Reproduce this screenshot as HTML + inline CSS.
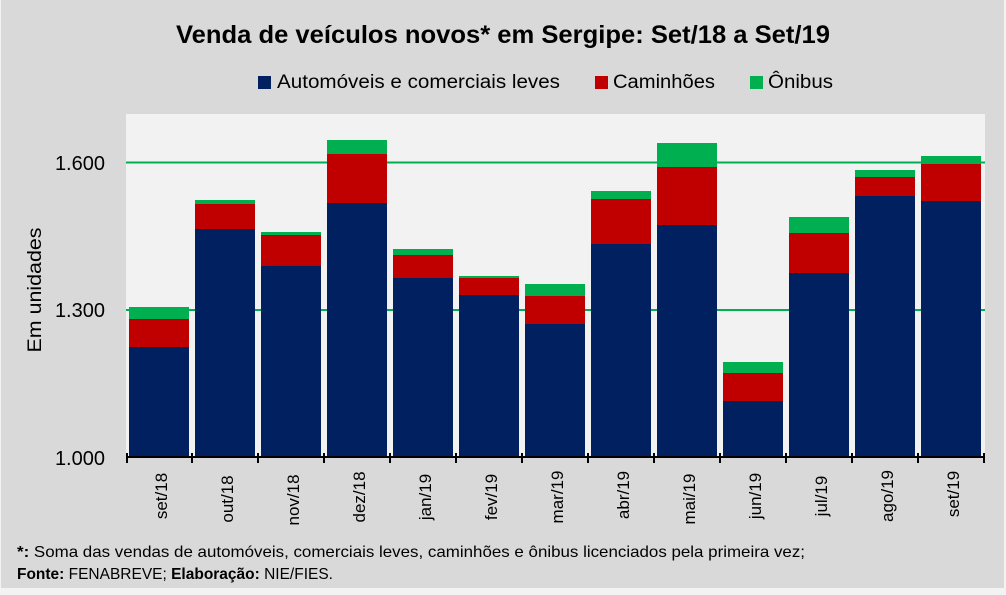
<!DOCTYPE html>
<html>
<head>
<meta charset="utf-8">
<style>
html,body{margin:0;padding:0;background:#f3f3f3;}
svg{display:block;}
text{font-family:"Liberation Sans",sans-serif;fill:#000;}
</style>
</head>
<body>
<svg width="1006" height="595" viewBox="0 0 1006 595" xmlns="http://www.w3.org/2000/svg">
  <rect x="0" y="0" width="1006" height="595" fill="#f3f3f3"/>
  <rect x="1" y="0" width="1003" height="588" fill="#d9d9d9"/>
  <!-- plot area -->
  <rect x="126" y="114" width="859" height="343" fill="#f2f2f2"/>
  <!-- gridlines -->
  <line x1="126" y1="162.5" x2="985" y2="162.5" stroke="#00b050" stroke-width="2"/>
  <line x1="126" y1="310" x2="985" y2="310" stroke="#00b050" stroke-width="2"/>

  <!-- Title -->
  <text x="176" y="43" font-size="25" font-weight="bold" textLength="654" lengthAdjust="spacingAndGlyphs">Venda de veículos novos* em Sergipe: Set/18 a Set/19</text>

  <!-- Legend -->
  <rect x="258" y="76" width="13" height="13" fill="#002060"/>
  <text x="277" y="88" font-size="19" textLength="283" lengthAdjust="spacingAndGlyphs">Automóveis e comerciais leves</text>
  <rect x="595" y="76" width="13" height="13" fill="#c00000"/>
  <text x="613" y="88" font-size="19" textLength="102" lengthAdjust="spacingAndGlyphs">Caminhões</text>
  <rect x="750" y="76" width="13" height="13" fill="#00b050"/>
  <text x="768" y="88" font-size="19" textLength="65" lengthAdjust="spacingAndGlyphs">Ônibus</text>

  <!-- Y axis labels -->
  <text x="105" y="170" font-size="20" text-anchor="end">1.600</text>
  <text x="105" y="317" font-size="20" text-anchor="end">1.300</text>
  <text x="105" y="465" font-size="20" text-anchor="end">1.000</text>
  <text transform="translate(41,290) rotate(-90)" font-size="19" text-anchor="middle" textLength="125" lengthAdjust="spacingAndGlyphs">Em unidades</text>

  <!-- Bars: x, green top, red top, blue top -->
  <g>
    <!-- set/18 -->
    <rect x="129" y="307" width="60" height="12" fill="#00b050"/>
    <rect x="129" y="319" width="60" height="28" fill="#c00000"/>
    <rect x="129" y="347" width="60" height="110" fill="#002060"/>
    <!-- out/18 -->
    <rect x="195" y="200" width="60" height="4" fill="#00b050"/>
    <rect x="195" y="204" width="60" height="25" fill="#c00000"/>
    <rect x="195" y="229" width="60" height="228" fill="#002060"/>
    <!-- nov/18 -->
    <rect x="261" y="232" width="60" height="3" fill="#00b050"/>
    <rect x="261" y="235" width="60" height="31" fill="#c00000"/>
    <rect x="261" y="266" width="60" height="191" fill="#002060"/>
    <!-- dez/18 -->
    <rect x="327" y="140" width="60" height="14" fill="#00b050"/>
    <rect x="327" y="154" width="60" height="49" fill="#c00000"/>
    <rect x="327" y="203" width="60" height="254" fill="#002060"/>
    <!-- jan/19 -->
    <rect x="393" y="249" width="60" height="6" fill="#00b050"/>
    <rect x="393" y="255" width="60" height="23" fill="#c00000"/>
    <rect x="393" y="278" width="60" height="179" fill="#002060"/>
    <!-- fev/19 -->
    <rect x="459" y="276" width="60" height="2" fill="#00b050"/>
    <rect x="459" y="278" width="60" height="17" fill="#c00000"/>
    <rect x="459" y="295" width="60" height="162" fill="#002060"/>
    <!-- mar/19 -->
    <rect x="525" y="284" width="60" height="12" fill="#00b050"/>
    <rect x="525" y="296" width="60" height="28" fill="#c00000"/>
    <rect x="525" y="324" width="60" height="133" fill="#002060"/>
    <!-- abr/19 -->
    <rect x="591" y="191" width="60" height="8" fill="#00b050"/>
    <rect x="591" y="199" width="60" height="45" fill="#c00000"/>
    <rect x="591" y="244" width="60" height="213" fill="#002060"/>
    <!-- mai/19 -->
    <rect x="657" y="143" width="60" height="24" fill="#00b050"/>
    <rect x="657" y="167" width="60" height="58" fill="#c00000"/>
    <rect x="657" y="225" width="60" height="232" fill="#002060"/>
    <!-- jun/19 -->
    <rect x="723" y="362" width="60" height="11" fill="#00b050"/>
    <rect x="723" y="373" width="60" height="28" fill="#c00000"/>
    <rect x="723" y="401" width="60" height="56" fill="#002060"/>
    <!-- jul/19 -->
    <rect x="789" y="217" width="60" height="16" fill="#00b050"/>
    <rect x="789" y="233" width="60" height="40" fill="#c00000"/>
    <rect x="789" y="273" width="60" height="184" fill="#002060"/>
    <!-- ago/19 -->
    <rect x="855" y="170" width="60" height="7" fill="#00b050"/>
    <rect x="855" y="177" width="60" height="19" fill="#c00000"/>
    <rect x="855" y="196" width="60" height="261" fill="#002060"/>
    <!-- set/19 -->
    <rect x="921" y="156" width="60" height="8" fill="#00b050"/>
    <rect x="921" y="164" width="60" height="37" fill="#c00000"/>
    <rect x="921" y="201" width="60" height="256" fill="#002060"/>
  </g>

  <!-- X axis -->
  <line x1="126" y1="457" x2="985" y2="457" stroke="#000" stroke-width="2"/>
  <g stroke="#000" stroke-width="2">
    <line x1="127" y1="453" x2="127" y2="463"/>
    <line x1="192" y1="453" x2="192" y2="463"/>
    <line x1="258" y1="453" x2="258" y2="463"/>
    <line x1="324" y1="453" x2="324" y2="463"/>
    <line x1="390" y1="453" x2="390" y2="463"/>
    <line x1="456" y1="453" x2="456" y2="463"/>
    <line x1="522" y1="453" x2="522" y2="463"/>
    <line x1="588" y1="453" x2="588" y2="463"/>
    <line x1="654" y1="453" x2="654" y2="463"/>
    <line x1="720" y1="453" x2="720" y2="463"/>
    <line x1="786" y1="453" x2="786" y2="463"/>
    <line x1="852" y1="453" x2="852" y2="463"/>
    <line x1="918" y1="453" x2="918" y2="463"/>
    <line x1="984" y1="453" x2="984" y2="463"/>
  </g>

  <!-- X labels -->
  <g font-size="17" text-anchor="middle">
    <text transform="translate(167,496) rotate(-90)">set/18</text>
    <text transform="translate(233,499) rotate(-90)">out/18</text>
    <text transform="translate(299,500) rotate(-90)">nov/18</text>
    <text transform="translate(365,497) rotate(-90)">dez/18</text>
    <text transform="translate(431,497) rotate(-90)">jan/19</text>
    <text transform="translate(497,497) rotate(-90)">fev/19</text>
    <text transform="translate(563,497) rotate(-90)">mar/19</text>
    <text transform="translate(629,495) rotate(-90)">abr/19</text>
    <text transform="translate(695,499) rotate(-90)">mai/19</text>
    <text transform="translate(761,496) rotate(-90)">jun/19</text>
    <text transform="translate(827,496) rotate(-90)">jul/19</text>
    <text transform="translate(893,496) rotate(-90)">ago/19</text>
    <text transform="translate(959,494) rotate(-90)">set/19</text>
  </g>

  <!-- Footer -->
  <text x="17" y="557" font-size="16" textLength="788" lengthAdjust="spacingAndGlyphs"><tspan font-weight="bold">*:</tspan> Soma das vendas de automóveis, comerciais leves, caminhões e ônibus licenciados pela primeira vez;</text>
  <text x="17" y="579" font-size="16" textLength="316" lengthAdjust="spacingAndGlyphs"><tspan font-weight="bold">Fonte:</tspan> FENABREVE; <tspan font-weight="bold">Elaboração:</tspan> NIE/FIES.</text>
</svg>
</body>
</html>
